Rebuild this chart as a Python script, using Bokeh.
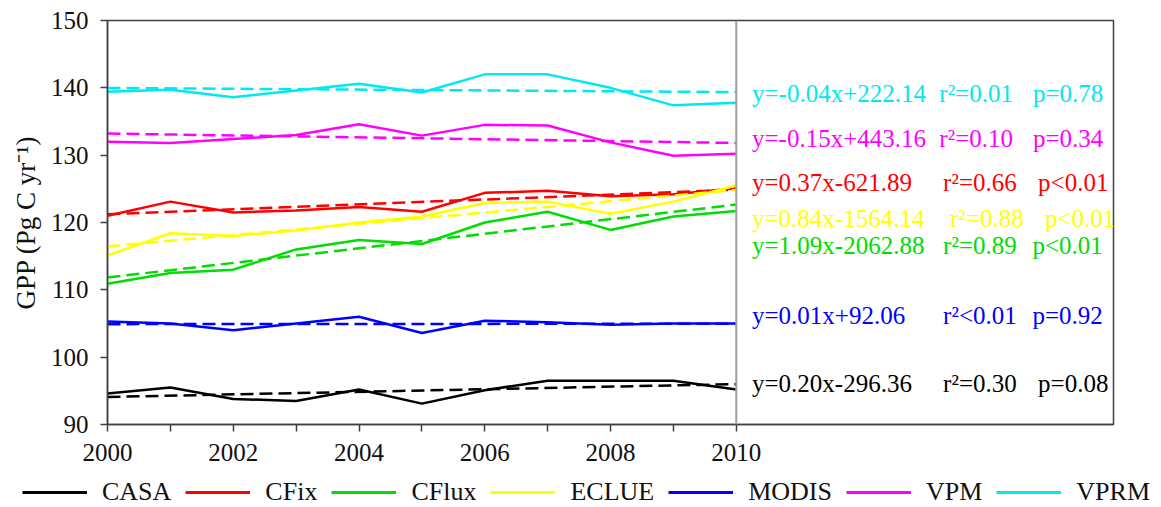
import numpy as np
from bokeh.plotting import figure
from bokeh.models import (Legend, LegendItem, Span, FixedTicker, ColumnDataSource, Range1d)
from bokeh.core.properties import value
from bokeh.embed import file_html
from bokeh.resources import INLINE

# ---------------- data ----------------
years = list(range(2000, 2011))
y_ticks = [90, 100, 110, 120, 130, 140, 150]
models = ["CASA", "CFix", "CFlux", "ECLUE", "MODIS", "VPM", "VPRM"]

casa  = [94.6, 95.5, 93.8, 93.5, 95.2, 93.1, 95.1, 96.5, 96.5, 96.5, 95.2]
cfix  = [121.0, 123.1, 121.5, 121.8, 122.3, 121.6, 124.4, 124.7, 123.9, 124.2, 125.1]
cflux = [110.9, 112.5, 113.0, 116.0, 117.4, 116.8, 120.0, 121.6, 118.9, 120.9, 121.7]
eclue = [115.1, 118.4, 118.0, 118.8, 120.0, 120.9, 122.9, 123.1, 121.3, 123.1, 125.5]
modis = [105.3, 105.0, 104.0, 105.0, 106.0, 103.6, 105.4, 105.2, 104.8, 105.0, 105.0]
vpm   = [132.0, 131.8, 132.4, 133.0, 134.6, 132.9, 134.5, 134.4, 131.9, 129.9, 130.2]
vprm  = [139.4, 139.7, 138.6, 139.6, 140.6, 139.3, 142.0, 142.0, 140.0, 137.4, 137.8]

eq_texts = ["y=0.20x-296.36", "y=0.37x-621.89", "y=1.09x-2062.88", "y=0.84x-1564.14",
            "y=0.01x+92.06", "y=-0.15x+443.16", "y=-0.04x+222.14"]
r2_texts = ["r²=0.30", "r²=0.66", "r²=0.89", "r²=0.88", "r²<0.01", "r²=0.10", "r²=0.01"]
p_texts  = ["p=0.08", "p<0.01", "p<0.01", "p<0.01", "p=0.92", "p=0.34", "p=0.78"]

series = [casa, cfix, cflux, eclue, modis, vpm, vprm]

# ---------------- styles / layout ----------------
colors = ["#000000", "#ff0000", "#00dd00", "#ffff00", "#0000ff", "#ff00ff", "#00e8f0"]
FONT = "'Liberation Serif', 'Times New Roman', serif"
eq_x = 2010.25
r2_x = [2013.29, 2013.29, 2013.29, 2013.40, 2013.29, 2013.23, 2013.23]
p_x  = [2014.80, 2014.80, 2014.71, 2014.91, 2014.71, 2014.72, 2014.72]
label_y = [96.09, 125.94, 116.58, 120.59, 106.19, 132.47, 139.16]

p = figure(width=1161, height=472, x_range=Range1d(2000, 2016), y_range=Range1d(90, 150),
           output_backend="svg", toolbar_location=None,
           min_border_left=107, min_border_right=48, min_border_top=20, min_border_bottom=48)
p.background_fill_color = "white"
p.border_fill_color = "white"
p.grid.visible = False
p.outline_line_color = "#404040"
p.outline_line_width = 1.5

p.xaxis.ticker = FixedTicker(ticks=years)
p.xaxis.major_label_overrides = {y: (str(y) if y % 2 == 0 else "") for y in years}
p.yaxis.ticker = FixedTicker(ticks=y_ticks)
for ax in (p.xaxis, p.yaxis):
    ax.axis_line_color = "#404040"
    ax.axis_line_width = 1.5
    ax.major_tick_line_color = "#404040"
    ax.major_tick_line_width = 1.5
    ax.major_tick_out = 7
    ax.major_tick_in = 0
    ax.minor_tick_line_color = None
    ax.major_label_text_font = FONT
    ax.major_label_text_font_size = "25px"
    ax.major_label_text_color = "#111111"
    ax.major_label_standoff = 12
p.yaxis.axis_label = "GPP (Pg C yr⁻¹)"
p.yaxis.axis_label_text_font = FONT
p.yaxis.axis_label_text_font_size = "27px"
p.yaxis.axis_label_text_font_style = "normal"
p.yaxis.axis_label_text_color = "#111111"
p.yaxis.axis_label_standoff = 7

p.add_layout(Span(location=years[-1], dimension="height", line_color="#a0a0a0", line_width=2))

for name, vals, c in zip(models, series, colors):
    p.line(years, vals, line_color=c, line_width=2.5)
    coef = np.polyfit(years, vals, 1)
    ends = [years[0], years[-1]]
    p.line(ends, list(np.polyval(coef, ends)), line_color=c, line_width=2.5, line_dash="13 6")

src = ColumnDataSource(dict(
    ex=[eq_x] * len(models), rx=r2_x, px=p_x, y=label_y,
    eq=eq_texts, r2=r2_texts, pv=p_texts, c=colors))
for xcol, tcol in (("ex", "eq"), ("rx", "r2"), ("px", "pv")):
    p.text(x=xcol, y="y", text=tcol, source=src, text_color="c",
           text_font=value(FONT), text_font_size=value("25px"),
           text_baseline="middle", text_align="left")

# ---------------- legend strip (separate root, full-width frame) ----------------
lg = figure(width=1161, height=35, output_backend="svg", toolbar_location=None,
            x_axis_location=None, y_axis_location=None, min_border=0,
            x_range=Range1d(0, 1), y_range=Range1d(0, 1))
lg.grid.visible = False
lg.outline_line_color = None
lg.background_fill_color = "white"
lg.border_fill_color = "white"
items = []
for name, vals, c in zip(models, series, colors):
    # same series, outside this strip's ranges: only the legend swatch is visible
    r = lg.line(years, vals, line_color=c, line_width=3)
    items.append(LegendItem(label=name, renderers=[r]))
legend = Legend(items=items, orientation="horizontal", location=(22, 0),
                glyph_width=65, glyph_height=20, label_standoff=15, spacing=14,
                padding=0, margin=0, border_line_color=None, background_fill_alpha=0,
                label_text_font=FONT, label_text_font_size="26px", label_text_color="#111111")
lg.add_layout(legend)

open("out.html", "w").write(file_html([p, lg], INLINE))
